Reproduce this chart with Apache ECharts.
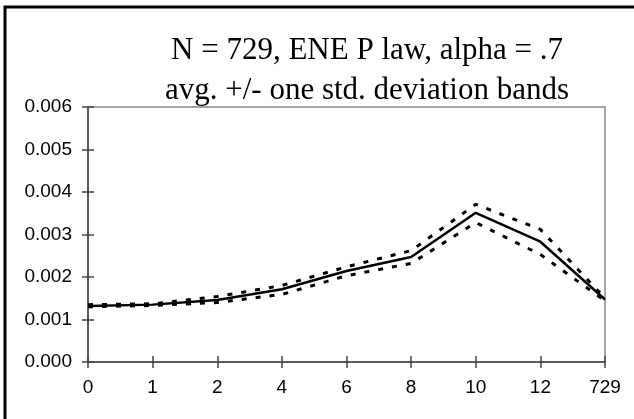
<!DOCTYPE html>
<html>
<head>
<meta charset="utf-8">
<script src="https://cdn.jsdelivr.net/npm/echarts@6/dist/echarts.min.js"></script>
<style>
html,body{margin:0;padding:0;background:#fff;}
#c{width:634px;height:419px;}
</style>
</head>
<body>
<div id="c"></div>
<script>
const categories = ['0','1','2','4','6','8','10','12','729'];
const avgValues   = [0.00132, 0.00135, 0.00146, 0.00171, 0.00214, 0.00247, 0.00351, 0.00283, 0.00147];
const upperValues = [0.00135, 0.00137, 0.00154, 0.00180, 0.00224, 0.00262, 0.00371, 0.00312, 0.00150];
const lowerValues = [0.00130, 0.00133, 0.00140, 0.00159, 0.00203, 0.00232, 0.00328, 0.00253, 0.00144];
const yTicks = {min: 0, max: 0.006, interval: 0.001};
const titleLines = ['N = 729, ENE P law, alpha = .7', 'avg. +/- one std. deviation bands'];

const chart = echarts.init(document.getElementById('c'), null, {renderer: 'canvas'});
const axisColor = '#444';
const labelFont = {fontFamily: 'Liberation Sans, Arial', fontSize: 19, color: '#000'};
const dashed = {color: '#000', width: 3, type: [5, 9], cap: 'butt'};

chart.setOption({
  animation: false,
  backgroundColor: '#fff',
  title: {
    text: titleLines.join('\n'),
    left: 362, top: 26, textAlign: 'center',
    textStyle: {fontFamily: 'Liberation Serif, Times New Roman', fontSize: 31, fontWeight: 'normal', color: '#000', lineHeight: 40}
  },
  graphic: [
    {type: 'polyline', shape: {points: [[5, 419], [5, 7], [634, 7]]}, style: {stroke: '#000', lineWidth: 3, fill: null}}
  ],
  grid: {left: 88, right: 29, top: 107, bottom: 57, show: true, borderColor: '#888', borderWidth: 1.5},
  xAxis: [
    {type: 'category', data: categories, boundaryGap: false,
     axisLine: {lineStyle: {color: axisColor, width: 1.5}},
     axisTick: {show: true, alignWithLabel: true, length: 6, lineStyle: {color: axisColor, width: 1.5}},
     axisLabel: Object.assign({margin: 16}, labelFont),
     splitLine: {show: false}},
    {type: 'category', data: categories, boundaryGap: false, position: 'bottom',
     axisLine: {show: false},
     axisTick: {show: true, inside: true, length: 6, lineStyle: {color: axisColor, width: 1.5}},
     axisLabel: {show: false}, splitLine: {show: false}}
  ],
  yAxis: [
    {type: 'value', min: yTicks.min, max: yTicks.max, interval: yTicks.interval,
     axisLine: {show: true, lineStyle: {color: axisColor, width: 1.5}},
     axisTick: {show: true, length: 6, lineStyle: {color: axisColor, width: 1.5}},
     axisLabel: Object.assign({margin: 16, formatter: v => v.toFixed(3)}, labelFont),
     splitLine: {show: false}},
    {type: 'value', min: yTicks.min, max: yTicks.max, interval: yTicks.interval, position: 'left',
     axisLine: {show: false},
     axisTick: {show: true, inside: true, length: 6, lineStyle: {color: axisColor, width: 1.5}},
     axisLabel: {show: false}, splitLine: {show: false}}
  ],
  series: [
    {name: 'upper', type: 'line', data: upperValues, symbol: 'none', lineStyle: dashed, z: 3},
    {name: 'lower', type: 'line', data: lowerValues, symbol: 'none', lineStyle: dashed, z: 3},
    {name: 'avg', type: 'line', data: avgValues, symbol: 'none', lineStyle: {color: '#000', width: 2.5}, z: 4}
  ]
});
</script>
</body>
</html>
